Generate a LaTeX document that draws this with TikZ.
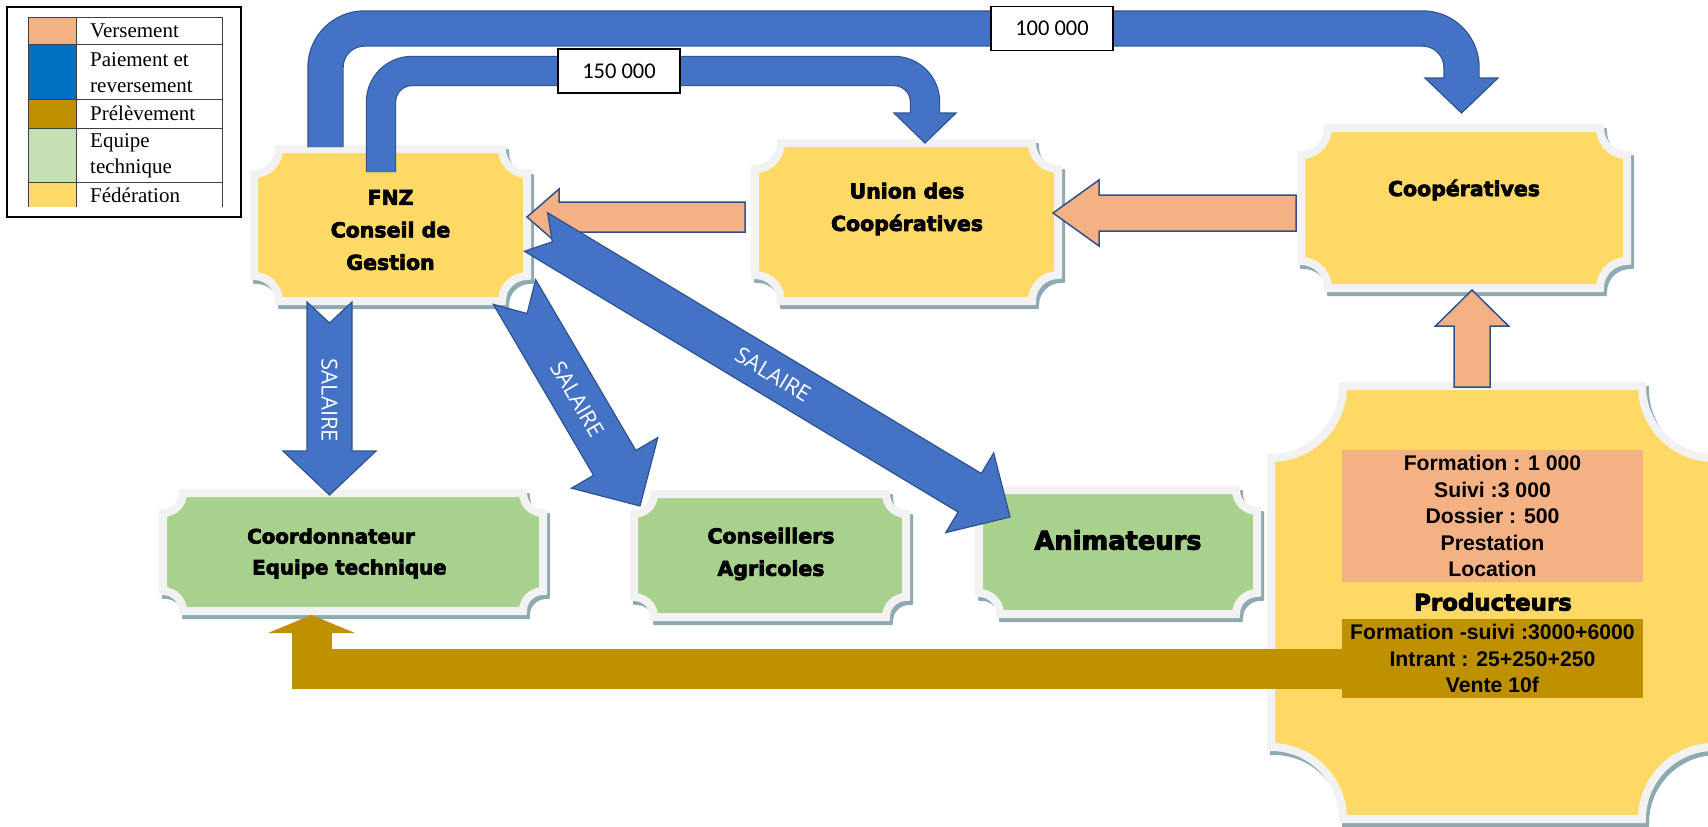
\documentclass[tikz,border=0pt]{standalone}
\usepackage{fontspec}
\usetikzlibrary{calc}
\newfontfamily\legfont{Liberation Serif}
\newfontfamily\boxfont{DejaVu Sans}[BoldFeatures={FakeBold=3.5}]
\newfontfamily\arialfont{Liberation Sans}
\newfontfamily\salfont{Open Sans}
\newfontfamily\numfont{Carlito}

\definecolor{versement}{HTML}{F4B183}
\definecolor{paiement}{HTML}{0070C0}
\definecolor{prelev}{HTML}{BF9000}
\definecolor{equipeleg}{HTML}{C5E0B4}
\definecolor{federation}{HTML}{FFD966}
\definecolor{equipe}{HTML}{A9D18E}
\definecolor{bleu}{HTML}{4472C4}
\definecolor{bleubord}{HTML}{2F528F}
\definecolor{cadre}{HTML}{F2F2F2}
\definecolor{ombre}{HTML}{8FA9B3}
\definecolor{trait}{HTML}{404040}

% plaque: rectangle with hollow corners
\newcommand\plaqueshape[4]{%
  \path[#4, line width=8pt] ($(#1)+(#3,0)$) -- ($(#1 -| #2)+(-#3,0)$) arc[start angle=180,end angle=90,radius=#3]
    -- ($(#2)+(0,-#3)$) arc[start angle=270,end angle=180,radius=#3]
    -- ($(#1 |- #2)+(#3,0)$) arc[start angle=0,end angle=-90,radius=#3]
    -- ($(#1)+(0,#3)$) arc[start angle=90,end angle=0,radius=#3] -- cycle;}
\newcommand\plaque[3]{%
  \coordinate (pa) at ($(#1.north west)+(-4,-4)$);
  \coordinate (pb) at ($(#1.south east)+(4,4)$);
  \coordinate (qa) at ($(pa)+(3,4)$);
  \coordinate (qb) at ($(pb)+(3,4)$);
  \plaqueshape{qa}{qb}{#3}{fill=ombre,draw=ombre}
  \plaqueshape{pa}{pb}{#3}{fill=#2,draw=cadre}}
% block arrow: from, to, half shaft, half head, head length, notch, style
\newcommand\fleche[7]{%
  \coordinate (fb) at ($(#2)!#5pt!(#1)$);
  \coordinate (fn) at ($(#1)!#6pt!(#2)$);
  \path[#7] ($(#1)!#3pt!90:(#2)$) -- (fn) -- ($(#1)!#3pt!270:(#2)$)
    -- ($(fb)!#3pt!90:(#1)$) -- ($(fb)!#4pt!90:(#1)$) -- (#2)
    -- ($(fb)!#4pt!270:(#1)$) -- ($(fb)!#3pt!270:(#1)$) -- cycle;}
% head of a bent arrow pointing down
\newcommand\tete[4]{%
  \fill[bleu] ($(#1)+(-#3,-#4)$) -- ($(#1)+(#3,-#4)$) -- (#1) -- cycle;
  \draw[bleubord, line width=1.2pt] ($(#1)+(-#2,-#4)$) -- ($(#1)+(-#3,-#4)$) -- (#1)
    -- ($(#1)+(#3,-#4)$) -- ($(#1)+(#2,-#4)$);}

\begin{document}
\begin{tikzpicture}[x=1pt, y=-1pt,
  boite/.style={inner sep=0pt, outer sep=0pt},
  texteboite/.style={font=\boxfont\bfseries\fontsize{20.5}{32.5}\selectfont, align=center, inner sep=0pt},
  legende/.style={font=\legfont\fontsize{21}{26}\selectfont, align=left, anchor=west, inner sep=0pt},
  chiffres/.style={font=\arialfont\bfseries\fontsize{21.2}{26.5}\selectfont, align=center, inner sep=0pt},
  etiquette/.style={draw=black, line width=1.2pt, fill=white, minimum width=122pt, minimum height=44pt,
    font=\numfont\fontsize{22.5}{27}\selectfont},
  salaire/.style={text=white, font=\salfont\fontsize{22}{26}\selectfont, inner sep=0pt},
  bleufl/.style={fill=bleu, draw=bleubord, line width=1.2pt},
  saumonfl/.style={fill=versement, draw=bleubord, line width=1.5pt},
  tuyau/.style={draw=bleubord, double=bleu, double distance=#1, line width=1.2pt}]
\path[use as bounding box, fill=white] (0,0) rectangle (1708,827);

% legende
\draw[line width=1.5pt] (7,7) rectangle (241,217);
\fill[versement] (28,17) rectangle (76,44);
\fill[paiement] (28,44) rectangle (76,99);
\fill[prelev] (28,99) rectangle (76,128);
\fill[equipeleg] (28,128) rectangle (76,182);
\fill[federation] (28,182) rectangle (76,207);
\draw[trait, line width=1pt] (28,207) -- (28,17) -- (222,17) -- (222,207);
\draw[trait, line width=1pt] (76,17) -- (76,207);
\draw[trait, line width=1pt] (28,44) -- (222,44);
\draw[trait, line width=1pt] (28,99) -- (222,99);
\draw[trait, line width=1pt] (28,128) -- (222,128);
\draw[trait, line width=1pt] (28,182) -- (222,182);
\node[legende] (leg1) at (90,31) {Versement};
\node[legende] (leg2) at (90,73) {Paiement et\\reversement};
\node[legende] (leg3) at (90,113) {Prélèvement};
\node[legende] (leg4) at (90,155.5) {Equipe\\technique};
\node[legende] (leg5) at (90,195) {Fédération};

% boites
\node[boite, minimum width=265pt, minimum height=144pt] (fnz) at (390.5,225) {};
\plaque{fnz}{federation}{25}
\node[boite, minimum width=295pt, minimum height=150pt] (union) at (906.5,222) {};
\plaque{union}{federation}{26}
\node[boite, minimum width=318pt, minimum height=152pt] (coop) at (1464,208) {};
\plaque{coop}{federation}{27}
\node[boite, minimum width=372pt, minimum height=110pt] (coord) at (353,552) {};
\plaque{coord}{equipe}{20}
\node[boite, minimum width=264pt, minimum height=115pt] (cons) at (770,555.5) {};
\plaque{cons}{equipe}{20}
\node[boite, minimum width=270pt, minimum height=116pt] (anim) at (1118,552) {};
\plaque{anim}{equipe}{21}
\node[boite, minimum width=435pt, minimum height=425pt] (prod) at (1492.5,602.5) {};
\plaque{prod}{federation}{72}

\node[texteboite] (fnz-t) at (390.5,230) {FNZ\\Conseil de\\Gestion};
\node[texteboite] (union-t) at (907,209) {Union des\\Coopératives};
\node[texteboite] (coop-t) at (1464,190) {Coopératives};
\node[texteboite, font=\boxfont\bfseries\fontsize{19.8}{31}\selectfont, align=left, anchor=west] (coord-t) at (247,553.5)
  {Coordonnateur\\\hspace*{5pt}Equipe technique};
\node[texteboite] (cons-t) at (771,554) {Conseillers\\Agricoles};
\node[texteboite, font=\boxfont\bfseries\fontsize{25.7}{30}\selectfont] (anim-t) at (1118,540) {Animateurs};
\node[boite, chiffres, fill=versement, minimum width=301pt, minimum height=132pt] (vers) at (1492.5,516)
  {Formation : 1 000\\Suivi :3 000\\Dossier : 500\\Prestation\\Location};

% versements
\coordinate (a4) at ($(prod.north)+(-20.5,-3)$);
\coordinate (b4) at ($(coop.south)+(8,6)$);
\fleche{a4}{b4}{18}{36.5}{36}{0}{saumonfl}
\coordinate (a5) at ($(coop.west)+(-9,5)$);
\coordinate (b5) at ($(union.east)+(-1,-9)$);
\fleche{a5}{b5}{18}{33}{46}{0}{saumonfl}
\coordinate (a6) at ($(union.west)+(-14,-5)$);
\coordinate (b6) at ($(fnz.east)+(4,-8)$);
\fleche{a6}{b6}{15}{28}{32}{0}{saumonfl}

% prelevement
\coordinate (p-brun) at ($(coord.south)+(-41.5,8)$);
\draw[prelev, line width=40pt] ($(prod.center)+(0,66.5)$) -| ($(p-brun)+(0,18)$);
\fill[prelev] ($(p-brun)+(-43.5,18)$) -- ($(p-brun)+(43.5,18)$) -- (p-brun) -- cycle;
\node[boite, chiffres, fill=prelev, minimum width=301pt, minimum height=79pt] (prel) at (1492.5,658.5)
  {Formation -suivi :3000+6000\\Intrant : 25+250+250\\Vente 10f};
\node[texteboite, font=\boxfont\bfseries\fontsize{22.9}{27}\selectfont] (prod-t) at (1493,602) {Producteurs};

% reversements
\coordinate (b100) at (1052,28.5);
\coordinate (p100) at ($(coop.north)+(-2.5,-19)$);
\draw[tuyau=34pt, rounded corners=39pt] ($(fnz.north)+(-65,-6)$) |- (b100) -| ($(p100)+(0,-35)$);
\tete{p100}{17.6}{36.5}{35}
\coordinate (b150) at (619,71);
\coordinate (p150) at ($(union.north)+(18.5,-4)$);
\draw[tuyau=28pt, rounded corners=31pt] ($(fnz.north)+(-9.5,19)$) |- (b150) -| ($(p150)+(0,-30)$);
\tete{p150}{14.6}{31}{30}
\node[etiquette] (l100) at (b100) {100 000};
\node[etiquette] (l150) at (b150) {150 000};

% salaires
\coordinate (a1) at ($(fnz.south)+(-61,5)$);
\coordinate (b1) at ($(coord.north)+(-23.5,-2)$);
\fleche{a1}{b1}{22.5}{46.5}{44}{21}{bleufl}
\path (a1) -- node[salaire, rotate=-90, pos=0.51] (s1) {SALAIRE} (b1);
\coordinate (a2) at ($(fnz.south east)+(-8.5,-5)$);
\coordinate (b2) at ($(cons.north west)+(2,8)$);
\fleche{a2}{b2}{24.5}{50}{50}{25}{bleufl}
\path (a2) -- node[salaire, sloped, pos=0.5] (s2) {SALAIRE} (b2);
\coordinate (a3) at ($(fnz.east)+(13,7)$);
\coordinate (b3) at ($(anim.north west)+(27,23)$);
\fleche{a3}{b3}{22.5}{46.5}{47}{19}{bleufl}
\path (a3) -- node[salaire, sloped, pos=0.5] (s3) {SALAIRE} (b3);
\end{tikzpicture}
\end{document}
